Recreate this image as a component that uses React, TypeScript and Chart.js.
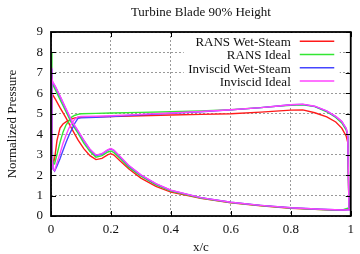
import React, { useEffect, useRef } from 'react';
import { Chart, registerables } from 'chart.js';

Chart.register(...registerables);

const TITLE = 'Turbine Blade 90% Height';
const X_LABEL = 'x/c';
const Y_LABEL = 'Normalized Pressure';
const SERIES_NAMES = ['RANS Wet-Steam', 'RANS Ideal', 'Inviscid Wet-Steam', 'Inviscid Ideal'];
const SERIES_COLORS = ['#ff1a1a', '#33e633', '#4545ff', '#ff45ff'];
const X_TICKS = [0, 0.2, 0.4, 0.6, 0.8, 1];
const Y_TICKS = [0, 1, 2, 3, 4, 5, 6, 7, 8, 9];

// suction side, leading edge -> trailing edge (first entry = stagnation peak at x=0)
const SUCTION_X = [0, 0.005, 0.015, 0.03, 0.05, 0.07, 0.09, 0.11, 0.13, 0.15, 0.17, 0.19, 0.2, 0.21, 0.23, 0.26, 0.3, 0.35, 0.4, 0.5, 0.6, 0.7, 0.8, 0.9, 0.97, 0.998];
const RANS_WET_SUCTION = [6.1, 5.95, 5.7, 5.3, 4.8, 4.25, 3.72, 3.28, 2.95, 2.76, 2.82, 3.0, 3.05, 2.98, 2.7, 2.3, 1.85, 1.45, 1.17, 0.86, 0.64, 0.5, 0.38, 0.31, 0.28, 0.35];
const RANS_IDEAL_SUCTION = [8.0, 6.45, 6.15, 5.7, 5.1, 4.5, 4.05, 3.55, 3.15, 2.88, 2.95, 3.13, 3.18, 3.1, 2.82, 2.38, 1.95, 1.52, 1.22, 0.88, 0.66, 0.51, 0.39, 0.32, 0.28, 0.42];
const INV_WET_SUCTION = [7.2, 6.55, 6.3, 5.85, 5.22, 4.6, 4.15, 3.68, 3.25, 2.96, 3.03, 3.23, 3.28, 3.2, 2.9, 2.45, 2.0, 1.57, 1.25, 0.9, 0.67, 0.52, 0.4, 0.33, 0.29, 0.3];
const INV_IDEAL_SUCTION = [7.25, 6.58, 6.33, 5.88, 5.25, 4.63, 4.18, 3.7, 3.27, 2.98, 3.05, 3.25, 3.3, 3.22, 2.92, 2.47, 2.01, 1.58, 1.26, 0.9, 0.67, 0.52, 0.4, 0.33, 0.29, 0.3];

// pressure side, leading edge -> trailing edge
const PRESSURE_X = [0.003, 0.007, 0.012, 0.02, 0.03, 0.04, 0.05, 0.06, 0.07, 0.08, 0.09, 0.1, 0.15, 0.2, 0.3, 0.4, 0.5, 0.6, 0.7, 0.75, 0.8, 0.84, 0.88, 0.92, 0.95, 0.97, 0.985, 0.99, 0.994];
const RANS_WET_PRESSURE = [3.2, 2.55, 2.8, 3.7, 4.3, 4.5, 4.6, 4.68, 4.75, 4.8, 4.82, 4.83, 4.85, 4.86, 4.9, 4.94, 4.97, 5.0, 5.08, 5.13, 5.18, 5.19, 5.05, 4.85, 4.6, 4.3, 3.9, 3.6, 0.45];
const RANS_IDEAL_PRESSURE = [3.5, 2.6, 2.55, 3.0, 3.6, 4.1, 4.45, 4.65, 4.85, 4.93, 4.97, 5.0, 5.02, 5.04, 5.07, 5.1, 5.14, 5.2, 5.3, 5.36, 5.42, 5.44, 5.35, 5.1, 4.82, 4.55, 4.2, 3.85, 0.45];
const INV_WET_PRESSURE = [3.0, 2.3, 2.2, 2.45, 2.8, 3.2, 3.6, 3.95, 4.25, 4.55, 4.78, 4.8, 4.83, 4.86, 4.95, 5.02, 5.1, 5.19, 5.3, 5.37, 5.44, 5.46, 5.36, 5.13, 4.86, 4.62, 4.27, 3.95, 0.4];
const INV_IDEAL_PRESSURE = [3.0, 2.3, 2.22, 2.6, 3.05, 3.55, 3.95, 4.3, 4.55, 4.75, 4.85, 4.87, 4.88, 4.9, 4.97, 5.04, 5.11, 5.2, 5.3, 5.37, 5.44, 5.47, 5.37, 5.14, 4.87, 4.63, 4.28, 3.96, 0.4];

const SUCTIONS = [RANS_WET_SUCTION, RANS_IDEAL_SUCTION, INV_WET_SUCTION, INV_IDEAL_SUCTION];
const PRESSURES = [RANS_WET_PRESSURE, RANS_IDEAL_PRESSURE, INV_WET_PRESSURE, INV_IDEAL_PRESSURE];

const FONT = "'Liberation Serif', 'Times New Roman', serif";

function buildLoop(suc: number[], pres: number[]) {
  const pts: { x: number; y: number }[] = [];
  for (let i = SUCTION_X.length - 1; i >= 0; i--) pts.push({ x: SUCTION_X[i], y: suc[i] });
  for (let i = 0; i < PRESSURE_X.length; i++) pts.push({ x: PRESSURE_X[i], y: pres[i] });
  const last = SUCTION_X.length - 1;
  pts.push({ x: SUCTION_X[last], y: suc[last] });
  return pts;
}

const decorPlugin = {
  id: 'decor',
  afterDatasetsDraw(chart: any) {
    const { ctx, chartArea: a, scales } = chart;
    ctx.save();
    // tick marks (inside, mirrored)
    ctx.strokeStyle = '#000';
    ctx.lineWidth = 1;
    ctx.beginPath();
    X_TICKS.forEach((v) => {
      const px = Math.round(scales.x.getPixelForValue(v)) + 0.5;
      ctx.moveTo(px, a.bottom); ctx.lineTo(px, a.bottom - 5);
      ctx.moveTo(px, a.top); ctx.lineTo(px, a.top + 5);
    });
    Y_TICKS.forEach((v) => {
      const py = Math.round(scales.y.getPixelForValue(v)) + 0.5;
      ctx.moveTo(a.left, py); ctx.lineTo(a.left + 5, py);
      ctx.moveTo(a.right, py); ctx.lineTo(a.right - 5, py);
    });
    ctx.stroke();

    // opaque legend box
    const boxLeft = a.right - 167;
    const boxRight = a.right - 11;
    ctx.fillStyle = '#fff';
    ctx.fillRect(boxLeft, a.top + 1, boxRight - boxLeft, 56);

    // legend entries
    ctx.font = `13px ${FONT}`;
    ctx.textAlign = 'right';
    ctx.textBaseline = 'middle';
    const textRight = a.right - 60;
    const lineL = a.right - 51;
    const lineR = a.right - 16.5;
    SERIES_NAMES.forEach((name, i) => {
      const y = a.top + 10 + i * 13.2;
      ctx.fillStyle = '#111';
      ctx.fillText(name, textRight, y + 0.7);
      ctx.strokeStyle = SERIES_COLORS[i];
      ctx.lineWidth = 1.5;
      ctx.beginPath();
      ctx.moveTo(lineL, y - 0.7);
      ctx.lineTo(lineR, y - 0.7);
      ctx.stroke();
    });

    // frame
    ctx.strokeStyle = '#000';
    ctx.lineWidth = 1.8;
    ctx.strokeRect(a.left, a.top, a.right - a.left, a.bottom - a.top);

    // title
    ctx.fillStyle = '#111';
    ctx.font = `13px ${FONT}`;
    ctx.textAlign = 'center';
    ctx.textBaseline = 'middle';
    ctx.fillText(TITLE, (a.left + a.right) / 2, 13);
    ctx.restore();
  },
};

export default function App() {
  const ref = useRef<HTMLCanvasElement | null>(null);
  useEffect(() => {
    if (!ref.current) return;
    const datasets = SERIES_NAMES.map((name, i) => ({
      label: name,
      data: buildLoop(SUCTIONS[i], PRESSURES[i]),
      borderColor: SERIES_COLORS[i],
      backgroundColor: SERIES_COLORS[i],
      borderWidth: 1.4,
      pointRadius: 0,
      tension: 0,
      fill: false,
      order: SERIES_NAMES.length - i,
    }));
    const chart = new Chart(ref.current, {
      type: 'line',
      data: { datasets },
      options: {
        animation: false,
        responsive: false,
        maintainAspectRatio: false,
        layout: { padding: { top: 32, right: 3, left: 0, bottom: 0 } },
        plugins: { legend: { display: false }, title: { display: false }, tooltip: { enabled: false } },
        scales: {
          x: {
            type: 'linear',
            min: 0,
            max: 1,
            afterFit: (s: any) => { s.height = 38; },
            afterBuildTicks: (s: any) => { s.ticks = X_TICKS.map((v) => ({ value: v })); },
            ticks: {
              padding: 6,
              color: '#111',
              font: { family: FONT, size: 13 },
              callback: (v: any) => String(Number(Number(v).toFixed(1))),
              maxRotation: 0,
            },
            grid: { color: '#999999', lineWidth: 1, drawTicks: false },
            border: { display: false, dash: [2, 2] },
            title: { display: true, text: X_LABEL, color: '#111', font: { family: FONT, size: 13, lineHeight: 1.0 }, padding: { top: 0, bottom: 0 } },
          },
          y: {
            type: 'linear',
            min: 0,
            max: 9,
            afterFit: (s: any) => { s.width = 51; },
            afterBuildTicks: (s: any) => { s.ticks = Y_TICKS.map((v) => ({ value: v })); },
            ticks: {
              padding: 8,
              color: '#111',
              font: { family: FONT, size: 13 },
              callback: (v: any) => String(v),
            },
            grid: { color: '#999999', lineWidth: 1, drawTicks: false },
            border: { display: false, dash: [2, 2] },
            title: { display: true, text: Y_LABEL, color: '#111', font: { family: FONT, size: 13 }, padding: { top: 5, bottom: 0 } },
          },
        },
      },
      plugins: [decorPlugin],
    });
    return () => chart.destroy();
  }, []);
  return (
    <div style={{ position: 'absolute', left: 0, top: 0, width: 360, height: 254, background: '#fff' }}>
      <canvas ref={ref} width={360} height={254} style={{ display: 'block' }} />
    </div>
  );
}
